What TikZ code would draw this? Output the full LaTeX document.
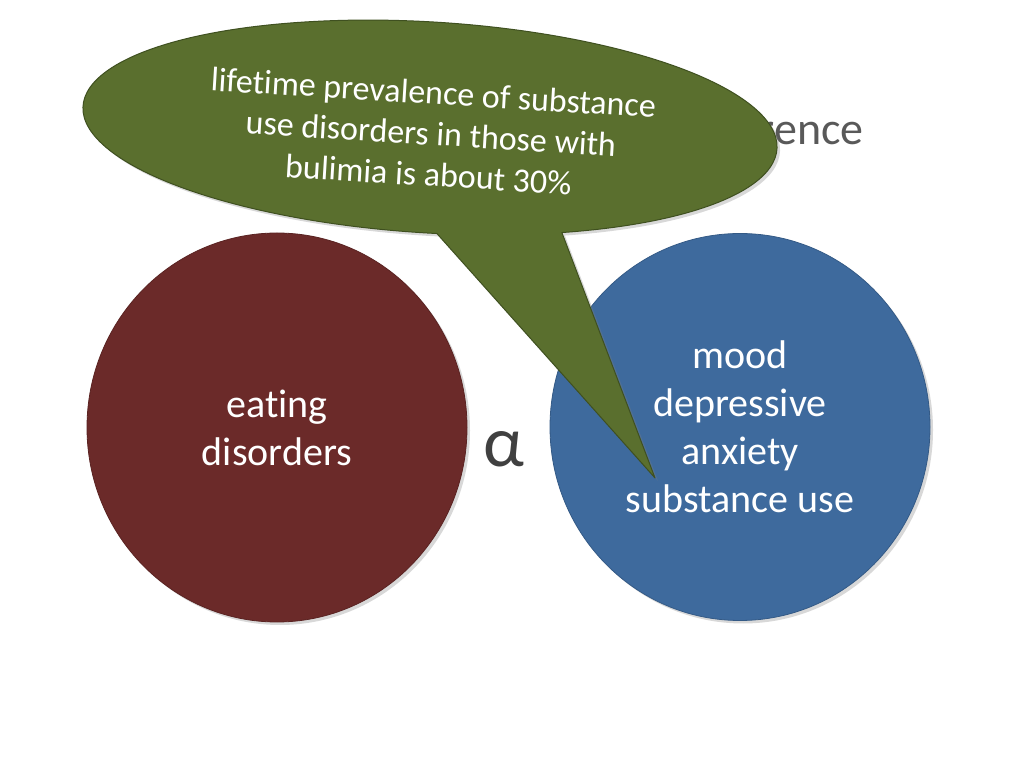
\documentclass[tikz,border=0pt]{standalone}
\usepackage{fontspec}
\setmainfont{Carlito}[Ligatures={NoCommon}]
\usetikzlibrary{shapes.geometric,shadows}
\definecolor{edred}{HTML}{6B2A29}
\definecolor{edredline}{HTML}{5A2322}
\definecolor{mdblue}{HTML}{3E6A9D}
\definecolor{mdblueline}{HTML}{345A86}
\definecolor{cgreen}{HTML}{5A6F2E}
\definecolor{cgreenline}{HTML}{3F5020}
\definecolor{titlegray}{HTML}{595959}
\definecolor{alphagray}{HTML}{404040}
\tikzset{
  bubble/.style={shape=ellipse, inner sep=0pt, line width=0.8pt, text=white, align=center,
    font=\fontsize{40}{48}\selectfont,
    drop shadow={shadow xshift=3pt, shadow yshift=-3pt, opacity=0.3}},
  callout/.style={fill=cgreen, draw=cgreenline, line width=1pt, line join=round,
    drop shadow={shadow xshift=3pt, shadow yshift=-3pt, opacity=0.3}},
  callouttext/.style={text=white, align=center, font=\fontsize{34}{41}\selectfont, inner sep=0pt},
}
\begin{document}
\begin{tikzpicture}[x=1pt,y=1pt]
\useasboundingbox[fill=white] (0,0) rectangle (1024,768);
% title fragment, partly hidden by the callout
\node[anchor=base east, inner sep=0pt, text=titlegray, font=\fontsize{46}{55}\selectfont] (title) at (864,623) {rence};
% circles
\node[bubble, fill=edred, draw=edredline, minimum width=380pt, minimum height=389pt] (eat) at (277,340.5) {eating\\disorders};
\node[bubble, fill=mdblue, draw=mdblueline, minimum width=380pt, minimum height=387pt] (mood) at (740,341) {mood\\depressive\\anxiety\\substance use};
\node[anchor=base, inner sep=0pt, text=alphagray, font=\fontsize{72}{86}\selectfont] (alpha) at (504,301) {α};
% callout
\begin{scope}[shift={(430,640.5)}, rotate=-3.5]
  \coordinate (tip) at (246.0,-336.1);
  \draw[callout] (293.4:347.6 and 105.5) arc[start angle=293.4, end angle=632.2, x radius=347.6, y radius=105.5] -- (tip) -- cycle;
\end{scope}
\node[callouttext, rotate=-3.5] (note) at (431,634.5) {lifetime prevalence of substance\\use disorders in those with\\bulimia is about 30\%};
\end{tikzpicture}
\end{document}
